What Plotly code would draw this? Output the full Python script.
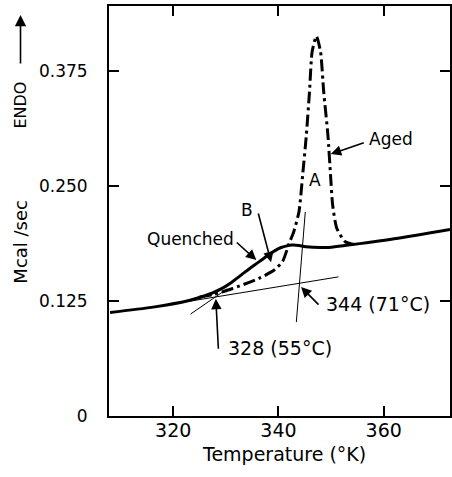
import plotly.graph_objects as go

# DSC scan of heat flow vs temperature
# Quenched sample (solid trace)
quenched_T = [308.0, 316.5, 322.8, 325.9, 327.5, 329.1, 331.0, 332.9, 334.6, 336.3, 338.0,
              339.5, 340.5, 341.4, 342.6, 343.9, 345.2, 349.6, 353.3, 357.1, 362.0, 372.6]
quenched_v = [0.1125, 0.1185, 0.1251, 0.1305, 0.1338, 0.1380, 0.1448, 0.1530, 0.1605, 0.1674, 0.1745,
              0.1802, 0.1830, 0.1845, 0.1856, 0.1852, 0.1837, 0.1831, 0.1856, 0.1885, 0.1925, 0.2027]

# Aged sample (dash-dot trace), diverging from the quenched trace below 325 K
aged_T = [325.0, 327.5, 331.3, 336.3, 339.2, 340.8, 342.0, 342.9, 343.9, 344.6, 345.3,
          345.9, 346.4, 347.2, 348.0, 348.6, 349.4, 349.9, 350.3, 351.1, 352.7, 354.3]
aged_v = [0.1290, 0.1318, 0.1385, 0.1494, 0.1585, 0.1680, 0.1870, 0.2000, 0.2218, 0.2617, 0.3051,
          0.3522, 0.3956, 0.4125, 0.3956, 0.3522, 0.3051, 0.2617, 0.2291, 0.2037, 0.1892, 0.1862]

# Extrapolated baseline and the two onset temperatures (K)
baseline_T = [322.5, 351.4]
baseline_v = [0.1241, 0.1511]
onset_T = [328.0, 344.0]
onset_slope = [0.00394, 0.0704]          # Mcal/sec per K of each tangent
onset_span = [(-4.7, 2.2), (-0.60, 1.10)]  # K either side of the onset

x_ticks = [320, 340, 360]
y_ticks = [0, 0.125, 0.25, 0.375]
y_ticktext = ["0", "0.125", "0.250", "0.375"]

FONT = "DejaVu Sans"


def baseline_at(t):
    s = (baseline_v[1] - baseline_v[0]) / (baseline_T[1] - baseline_T[0])
    return baseline_v[0] + s * (t - baseline_T[0])


fig = go.Figure()

# thin construction lines
fig.add_trace(go.Scatter(x=baseline_T, y=baseline_v, mode="lines",
                         line=dict(color="black", width=1), hoverinfo="skip"))
for t0, s, (lo, hi) in zip(onset_T, onset_slope, onset_span):
    v0 = baseline_at(t0)
    fig.add_trace(go.Scatter(x=[t0 + lo, t0 + hi], y=[v0 + s * lo, v0 + s * hi], mode="lines",
                             line=dict(color="black", width=1), hoverinfo="skip"))

fig.add_trace(go.Scatter(x=quenched_T, y=quenched_v, mode="lines", name="Quenched",
                         line=dict(color="black", width=3, shape="spline", smoothing=0.9)))
fig.add_trace(go.Scatter(x=aged_T, y=aged_v, mode="lines", name="Aged",
                         line=dict(color="black", width=3, shape="spline", smoothing=0.6,
                                   dash="12px,4px,3px,4px")))

ann = []


def label(text, x, y, size=17, xanchor="center"):
    ann.append(dict(text=text, x=x, y=y, xref="x", yref="y", showarrow=False,
                    xanchor=xanchor, yanchor="middle",
                    font=dict(family=FONT, size=size, color="black")))


def pointer(tail, tip):
    ann.append(dict(text="", x=tip[0], y=tip[1], ax=tail[0], ay=tail[1],
                    xref="x", yref="y", axref="x", ayref="y", showarrow=True,
                    arrowhead=2, arrowsize=1.3, arrowwidth=1.6, arrowcolor="black"))


label("Aged", 361.4, 0.3008)
label("A", 346.9, 0.2562)
label("B", 334.1, 0.2236)
label("Quenched", 323.25, 0.1919)
label("344 (71°C)", 348.6, 0.1213, size=19, xanchor="left")
label("328 (55°C)", 330.0, 0.0737, size=19, xanchor="left")

pointer((356.5, 0.2973), (349.95, 0.2845))
pointer((331.8, 0.1899), (335.8, 0.1693))
pointer((336.1, 0.2215), (338.6, 0.1671))
pointer((347.9, 0.1193), (onset_T[1] + 0.3, baseline_at(onset_T[1]) - 0.004))
pointer((328.6, 0.0715), (onset_T[0] + 0.1, baseline_at(onset_T[0]) - 0.002))

# axis titles
ann.append(dict(text="Temperature (°K)", x=0.5146, y=-0.093, xref="paper", yref="paper",
                showarrow=False, xanchor="center", yanchor="middle",
                font=dict(family=FONT, size=19, color="black")))
ann.append(dict(text="Mcal /sec", x=-0.2595, y=0.4241, xref="paper", yref="paper",
                showarrow=False, textangle=-90, xanchor="center", yanchor="middle",
                font=dict(family=FONT, size=18, color="black")))
ann.append(dict(text="ENDO", x=-0.2595, y=0.7584, xref="paper", yref="paper",
                showarrow=False, textangle=-90, xanchor="center", yanchor="middle",
                font=dict(family=FONT, size=16, color="black")))
ann.append(dict(text="", x=-0.2595, y=0.978, xref="paper", yref="paper",
                ax=0, ay=50, showarrow=True, arrowhead=2, arrowsize=1.4,
                arrowwidth=1.6, arrowcolor="black"))

fig.update_layout(
    width=452, height=477,
    margin=dict(l=109, r=0, t=6, b=61),
    paper_bgcolor="white", plot_bgcolor="white",
    showlegend=False,
    annotations=ann,
    xaxis=dict(range=[307.8, 372.6], tickvals=x_ticks, ticks="inside", ticklen=10,
               tickwidth=1.5, tickcolor="black", showline=True, linewidth=2,
               linecolor="black", mirror="ticks", showgrid=False, zeroline=False,
               ticklabelstandoff=-4,
               tickfont=dict(family=FONT, size=19, color="black")),
    yaxis=dict(range=[0, 0.4453], tickvals=y_ticks, ticktext=y_ticktext, ticks="inside",
               ticklen=10, tickwidth=1.5, tickcolor="black", showline=True, linewidth=2,
               linecolor="black", mirror="ticks", showgrid=False, zeroline=False,
               ticklabelstandoff=16,
               tickfont=dict(family=FONT, size=17, color="black")),
)

fig.write_html("out.html")
